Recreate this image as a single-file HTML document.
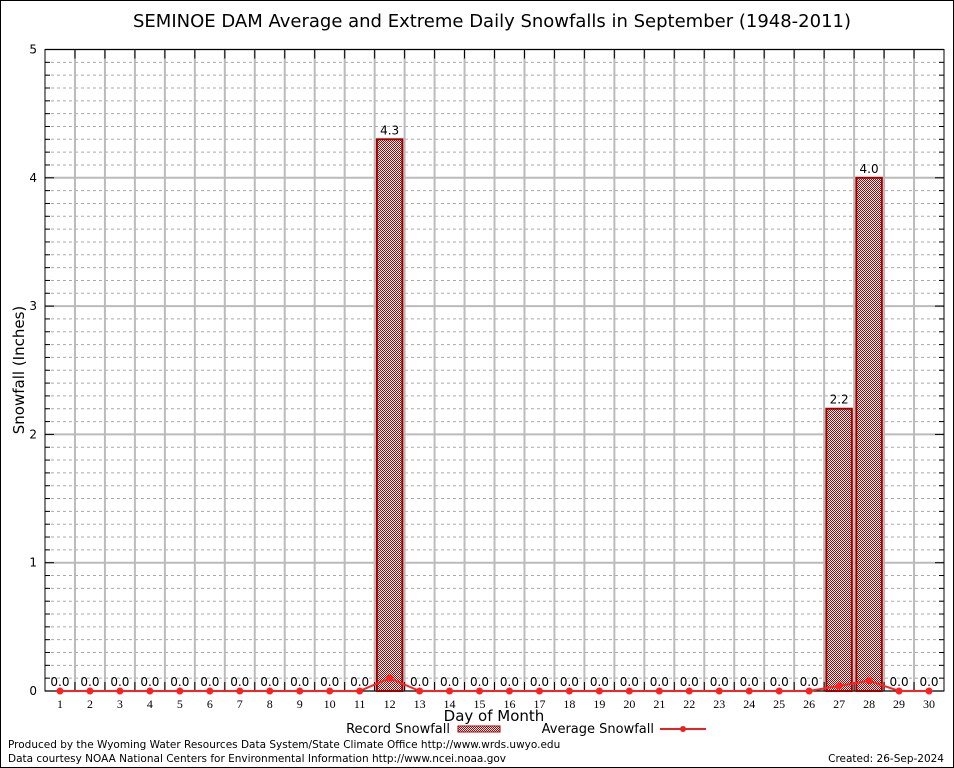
<!DOCTYPE html>
<html><head><meta charset="utf-8"><style>
body{margin:0;background:#fff}
svg{display:block;font-family:"DejaVu Sans","Liberation Sans",sans-serif}
</style></head><body>
<svg id="c" width="954" height="768">
<defs><pattern id="chk" width="2" height="2" patternUnits="userSpaceOnUse"><rect width="2" height="2" fill="#fff"/><rect width="1" height="1" fill="#b00000"/><rect x="1" y="1" width="1" height="1" fill="#b00000"/></pattern></defs>
<rect x="0.5" y="0.5" width="953" height="767" fill="#fff" stroke="#000"/>
<text x="492" y="27" font-size="18" text-anchor="middle">SEMINOE DAM Average and Extreme Daily Snowfalls in September (1948-2011)</text>
<g id="grid"></g><g id="marks"></g>
<text transform="translate(24,370) rotate(-90)" font-size="15" text-anchor="middle">Snowfall (Inches)</text>
<text x="494" y="721" font-size="15" text-anchor="middle">Day of Month</text>
<g font-size="13">
<text x="450" y="733" text-anchor="end">Record Snowfall</text>
<rect x="458" y="726" width="42" height="6" fill="url(#chk)" stroke="#a00"/>
<text x="654" y="733" text-anchor="end">Average Snowfall</text>
<line x1="660" y1="729" x2="706" y2="729" stroke="#e82020" stroke-width="2"/>
<circle cx="683" cy="729" r="3" fill="#e82020"/>
</g>
<text x="8" y="748" font-size="10.5">Produced by the Wyoming Water Resources Data System/State Climate Office http://www.wrds.uwyo.edu</text>
<text x="8" y="762" font-size="10.5">Data courtesy NOAA National Centers for Environmental Information http://www.ncei.noaa.gov</text>
<text x="944" y="762" font-size="10.5" text-anchor="end">Created:  26-Sep-2024</text>
</svg>
<script>
const days=[1,2,3,4,5,6,7,8,9,10,11,12,13,14,15,16,17,18,19,20,21,22,23,24,25,26,27,28,29,30];
const recordSnow=[0,0,0,0,0,0,0,0,0,0,0,4.3,0,0,0,0,0,0,0,0,0,0,0,0,0,0,2.2,4.0,0,0];
const avgSnow=[0,0,0,0,0,0,0,0,0,0,0,0.1,0,0,0,0,0,0,0,0,0,0,0,0,0,0,0.04,0.08,0,0];
const yTicks=[0,1,2,3,4,5];
const L=45,R=944,T=49.5,B=691;
const x=d=>L+(d-0.5)*(R-L)/30;
const y=v=>B-v*(B-T)/5;
const NS='http://www.w3.org/2000/svg';
function mk(p,t,a){const e=document.createElementNS(NS,t);for(const k in a)e.setAttribute(k,a[k]);p.appendChild(e);return e;}
const g=document.getElementById('grid'),m=document.getElementById('marks');
for(let i=1;i<50;i++){if(i%10==0)continue;const l=mk(g,'line',{x1:L,x2:R,y1:y(i/10),y2:y(i/10),stroke:'#aaa','stroke-dasharray':'3,3'});


mk(g,'line',{x1:L,x2:L+5,y1:y(i/10),y2:y(i/10),stroke:'#000'});mk(g,'line',{x1:R,x2:R-5,y1:y(i/10),y2:y(i/10),stroke:'#000'});}
yTicks.forEach(v=>{const l=mk(g,'line',{x1:L,x2:R,y1:y(v),y2:y(v),stroke:'#bbb','stroke-width':2});


const t=mk(g,'text',{x:L-8,y:y(v)+4,'font-size':12,'text-anchor':'end'});t.textContent=v;


mk(g,'line',{x1:L,x2:L+9,y1:y(v),y2:y(v),stroke:'#000'});mk(g,'line',{x1:R,x2:R-9,y1:y(v),y2:y(v),stroke:'#000'});});
for(let d=1;d<30;d++){const xx=L+d*(R-L)/30;const l=mk(g,'line',{x1:xx,x2:xx,y1:T,y2:B,stroke:'#bbb','stroke-width':2});


mk(g,'line',{x1:xx,x2:xx,y1:T,y2:T+9,stroke:'#000'});mk(g,'line',{x1:xx,x2:xx,y1:B,y2:B-9,stroke:'#000'});}
const fr=mk(g,'rect',{x:L,y:T,width:R-L,height:B-T,fill:'none',stroke:'#000'});


const bw=(R-L)/30*0.85;
days.forEach((d,i)=>{const v=recordSnow[i];
if(v>0){const r=mk(m,'rect',{x:x(d)-bw/2,y:y(v),width:bw,height:B-y(v),fill:'url(#chk)',stroke:'#a00000','stroke-width':2});

}
const t=mk(m,'text',{x:x(d),y:y(v)-5,'font-size':12,'text-anchor':'middle'});t.textContent=v.toFixed(1);


const xl=mk(m,'text',{x:x(d),y:B+17,'font-size':12,'text-anchor':'middle','font-family':'Liberation Serif,serif'});xl.textContent=d;

});
const pl=mk(m,'polyline',{points:days.map((d,i)=>x(d)+','+y(avgSnow[i])).join(' '),fill:'none',stroke:'#ff2020','stroke-width':2});


days.forEach((d,i)=>{const c=mk(m,'circle',{cx:x(d),cy:y(avgSnow[i]),r:3.5,fill:'#ff2020'});

});
</script>
</body></html>
